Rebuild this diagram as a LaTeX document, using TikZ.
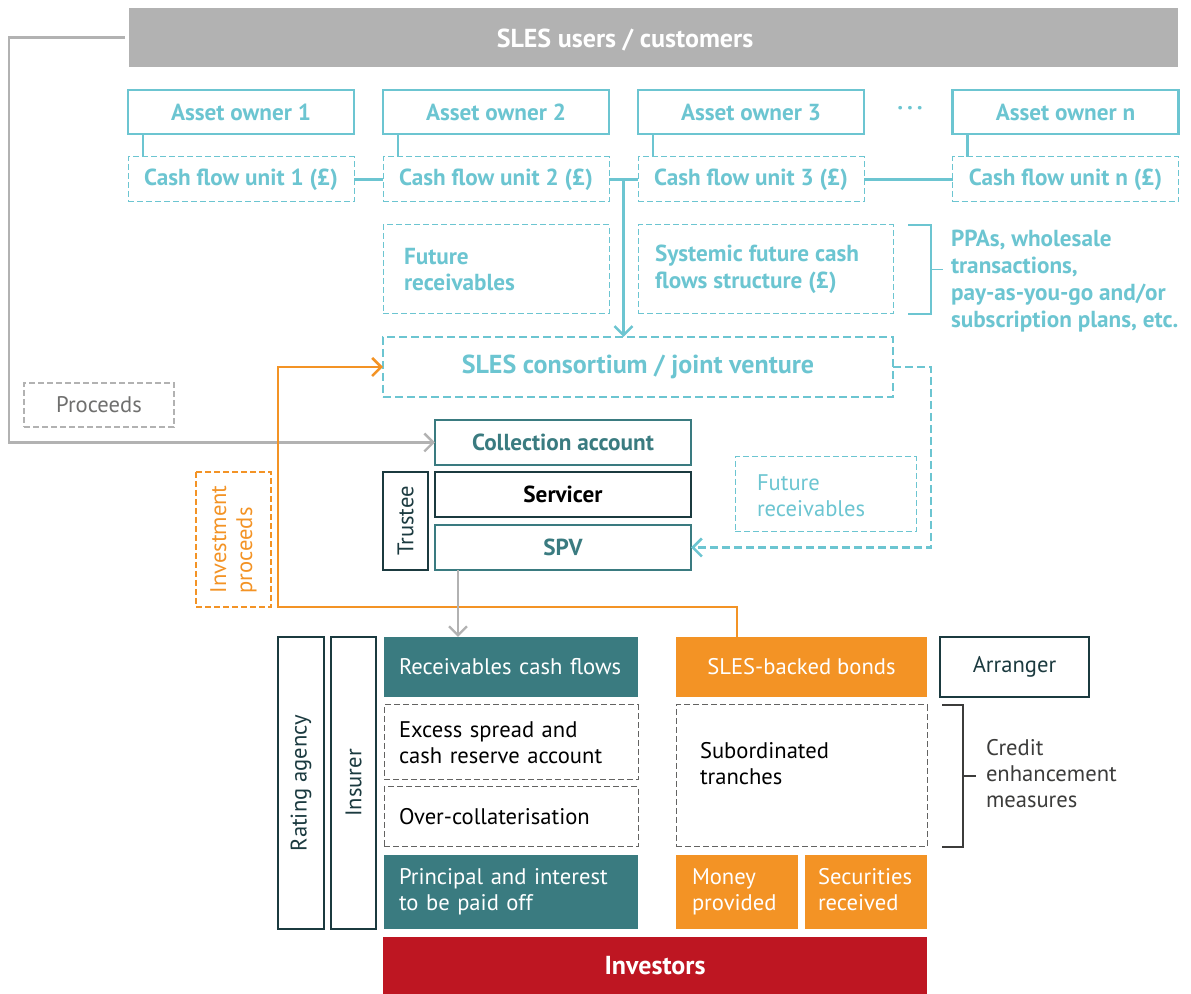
\documentclass[tikz,border=0pt]{standalone}
\usepackage{fontspec}
\setmainfont{PT Sans}
\usetikzlibrary{arrows.meta,calc}
\definecolor{sky}{HTML}{6CC5D1}
\definecolor{sea}{HTML}{3A7B80}
\definecolor{ink}{HTML}{1B3A3F}
\definecolor{amber}{HTML}{F39325}
\definecolor{crimson}{HTML}{BE1622}
\definecolor{ash}{HTML}{B2B2B2}
\definecolor{slate}{HTML}{3C3C3B}
\definecolor{mist}{HTML}{6F6F6E}
\begin{document}
\begin{tikzpicture}[x=0.5pt, y=-0.5pt, font=\fontsize{11.3}{13}\selectfont, line join=miter,
	every node/.style={inner sep=0pt, outer sep=0pt},
	tip/.style={-{Straight Barb[length=4.5pt,width=9pt]}},
	boldtxt/.style={font=\fontsize{11.6}{13.3}\selectfont\bfseries},
	owner/.style={draw=sky, line width=1.3pt, text=sky, boldtxt, minimum width=113pt, minimum height=22pt},
	unit/.style={draw=sky, line width=0.5pt, dash pattern=on 3pt off 1.5pt, text=sky, boldtxt, minimum width=113pt, minimum height=22.5pt},
	skydash/.style={draw=sky, line width=0.5pt, dash pattern=on 3pt off 1.5pt, text=sky, align=left},
	greydash/.style={draw=slate!80, line width=0.5pt, dash pattern=on 3pt off 1.5pt, align=left},
	seaframe/.style={draw=sea, line width=1.3pt, text=sea, boldtxt, minimum width=128pt, minimum height=22.5pt},
	inkframe/.style={draw=ink, line width=1.3pt, text=ink},
	seafill/.style={fill=sea, text=white, align=left},
	amberfill/.style={fill=amber, text=white, align=left}]
\useasboundingbox (0,0) rectangle (1191,994);

% users and asset owners
\node[fill=ash, minimum width=524.5pt, minimum height=29.5pt] (users) at (653.5,37.5) {};
\node[text=white, font=\fontsize{13}{15}\selectfont\bfseries] (userstxt) at (625,40) {SLES users / customers};
\foreach \i/\cx in {1/241, 2/496, 3/751, n/1065.5} {
	\node[owner] (ao\i) at (\cx,112) {Asset owner \i};
	\node[unit] (cf\i) at (\cx,179.5) {Cash flow unit \i\ (£)};
	\draw[sky, line width=1.3pt] ([xshift=7.5pt]ao\i.south west) -- ([xshift=7.5pt]cf\i.north west);
}
\node[text=sky, boldtxt] (dots) at (910,111) {·\,·\,·};
\draw[sky, line width=1.3pt] (cf1) -- (cf2) (cf2) -- (cf3) (cf3) -- (cfn);

% structures
\node[skydash, boldtxt, minimum width=113pt, minimum height=44.5pt, text width=92pt, inner xsep=10.5pt] (futrec) at (496,269.5) {Future\\receivables};
\node[skydash, minimum width=127.5pt, minimum height=44.5pt] (sys) at (765.5,269.5) {};
\node[text=sky, boldtxt, align=left, anchor=west] (systxt) at (655,269.5) {Systemic future cash\\flows structure (£)};
\node[text=sky, font=\fontsize{11.6}{13.4}\selectfont\bfseries, align=left, anchor=west] (ppa) at (951,281) {PPAs, wholesale\\transactions,\\pay-as-you-go and/or\\subscription plans, etc.};
\draw[sky, line width=0.8pt] ([xshift=7.5pt]sys.north east) -- ++(11.5pt,0) |- ([xshift=7.5pt]sys.south east);
\draw[sky, line width=0.8pt] ([xshift=19pt]sys.east) -- ++(6pt,0);

\node[draw=sky, line width=1.3pt, dash pattern=on 4pt off 2pt, text=sky, font=\fontsize{13}{15}\selectfont\bfseries, minimum width=255pt, minimum height=30pt] (cons) at (638,367) {SLES consortium / joint venture};
\coordinate (drop) at ($(cf2.east)!0.5!(cf3.west)$);
\draw[sky, line width=1.3pt, tip] (drop) -- (drop |- cons.north);

% SPV block
\node[seaframe] (collect) at (563,442.5) {Collection account};
\node[inkframe, boldtxt, text=black, minimum width=128pt, minimum height=22.5pt] (servicer) at (563,494.5) {Servicer};
\node[seaframe] (spv) at (563,547.5) {SPV};
\node[inkframe, rotate=90, minimum width=49pt, minimum height=22.5pt] (trustee) at (405.5,521) {Trustee};
\node[skydash, minimum width=90.5pt, minimum height=37.5pt] (futrec2) at (825.5,494.5) {};
\node[text=sky, align=left, anchor=west] (futrec2txt) at (757,496) {Future\\receivables};

\node[draw=ash, line width=0.6pt, dash pattern=on 3pt off 1.5pt, text=mist, minimum width=75pt, minimum height=22pt] (proceeds) at (99,405) {Proceeds};
\node[draw=amber, line width=0.6pt, dash pattern=on 3pt off 1.5pt, text=amber, rotate=90, minimum width=67.5pt, minimum height=37.5pt, align=left] (invproc) at (233.5,539.5) {Investment\\proceeds};

% lower block
\node[inkframe, rotate=90, minimum width=146pt, minimum height=23pt] (rating) at (301,783) {Rating agency};
\node[inkframe, rotate=90, minimum width=146pt, minimum height=22.5pt] (insurer) at (353.5,783) {Insurer};
\node[seafill, minimum width=127pt, minimum height=30pt, text width=112pt, inner xsep=7.5pt] (recv) at (511,667) {Receivables cash flows};
\node[greydash, minimum width=127pt, minimum height=37.5pt, text width=112pt, inner xsep=7.5pt] (excess) at (511,742.5) {Excess spread and\\cash reserve account};
\node[greydash, minimum width=127pt, minimum height=30pt, text width=112pt, inner xsep=7.5pt] (over) at (511,817) {Over-collaterisation};
\node[seafill, minimum width=127pt, minimum height=37pt, text width=112pt, inner xsep=7.5pt] (principal) at (511,892) {\strut Principal and interest\\to be paid off\strut};
\node[fill=crimson, text=white, font=\fontsize{13}{15}\selectfont\bfseries, minimum width=272pt, minimum height=28.5pt] (investors) at (655,965.5) {Investors};
\node[fill=amber, text=white, minimum width=125.5pt, minimum height=30pt] (bonds) at (801.5,667) {SLES-backed bonds};
\node[inkframe, text=ink, minimum width=74.5pt, minimum height=30pt] (arranger) at (1014.5,667) {Arranger};
\node[greydash, minimum width=125.5pt, minimum height=71pt, text width=101.5pt, inner xsep=12pt] (sub) at (801.5,776) {Subordinated\\tranches\\\mbox{}};
\node[amberfill, minimum width=61pt, minimum height=37pt, text width=45pt, inner xsep=8pt] (money) at (737,892) {\strut Money\\provided\strut};
\node[amberfill, minimum width=61pt, minimum height=37pt, text width=48pt, inner xsep=6.5pt] (secur) at (866,892) {\strut Securities\\received\strut};
\node[text=slate, align=left, anchor=west] (credit) at (986,774) {Credit\\enhancement\\measures};
\draw[slate, line width=0.8pt] ([xshift=7.5pt]sub.north east) -- ++(10.5pt,0) |- ([xshift=7.5pt]sub.south east);
\draw[slate, line width=0.8pt] ([xshift=18pt]sub.east) -- ++(6.5pt,0);

% flows
\draw[ash, line width=1.2pt, tip, shorten <=2pt] (users.west) -- (9,37.5) |- (collect.west);
\coordinate (bondfoot) at ([xshift=-32.25pt]bonds.north);
\draw[amber, line width=1.3pt, tip] (bondfoot) |- (278,607) |- (cons.west);
\draw[sky, line width=1.3pt, dash pattern=on 4pt off 2pt, tip] (cons.east) -- ++(19pt,0) |- (spv.east);
\coordinate (spvfoot) at ([xshift=-52.5pt]spv.south);
\draw[ash, line width=1.2pt, tip] (spvfoot) -- (spvfoot |- recv.north);
\end{tikzpicture}
\end{document}
